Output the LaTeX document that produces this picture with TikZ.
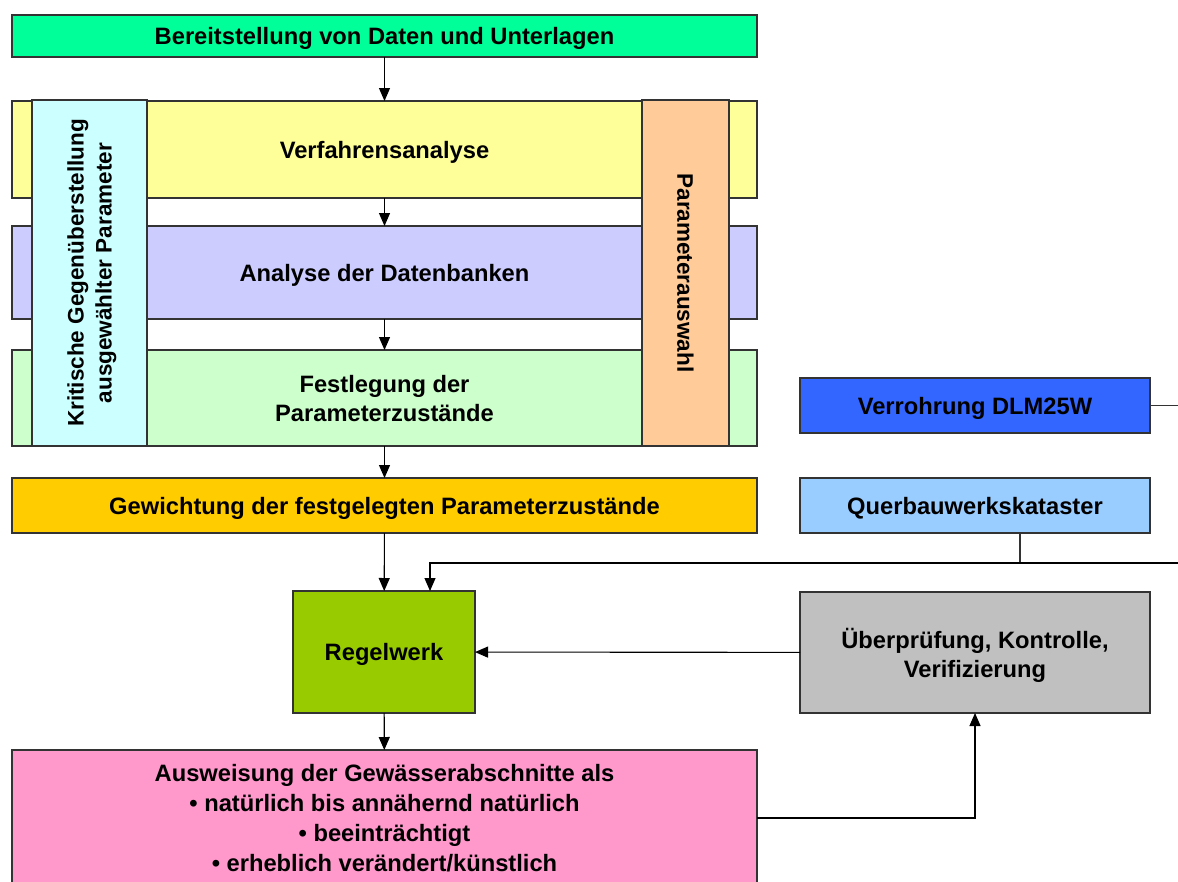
\documentclass[tikz,border=0pt]{standalone}
\usepackage{fontspec}
\setmainfont{Liberation Sans}
\usetikzlibrary{arrows.meta}

\definecolor{gruenhell}{HTML}{00FF99}
\definecolor{gelb}{HTML}{FFFF99}
\definecolor{lila}{HTML}{CCCCFF}
\definecolor{mint}{HTML}{CCFFCC}
\definecolor{tuerkis}{HTML}{CCFFFF}
\definecolor{apricot}{HTML}{FFCC99}
\definecolor{gold}{HTML}{FFCC00}
\definecolor{oliv}{HTML}{99CC00}
\definecolor{blau}{HTML}{3366FF}
\definecolor{hellblau}{HTML}{99CCFF}
\definecolor{grau}{HTML}{C0C0C0}
\definecolor{rosa}{HTML}{FF99CC}

\tikzset{
	kasten/.style={draw=black!80, line width=1.3pt, inner sep=0pt, outer sep=0pt,
		align=center, text depth=0pt, font=\fontsize{23.7}{29}\selectfont\bfseries},
	pfeil/.style={-{Triangle[length=13pt,width=11pt]}, line width=1.1pt},
	linie/.style={line width=1.1pt, draw=black!80}
}

\begin{document}
\begin{tikzpicture}[x=1pt, y=-1pt]
			%%%%% START %%%%%
			\useasboundingbox (0,0) rectangle (1178,881);
			
			\node[kasten, fill=gruenhell, minimum width=745, minimum height=42] (bereit) at (384.5,36) {Bereitstellung von Daten und Unterlagen};
			
			\node[kasten, fill=gelb, minimum width=745, minimum height=97] (verfahren) at (384.5,149.5) {Verfahrensanalyse};
			\node[kasten, fill=lila, minimum width=745, minimum height=93] (analyse) at (384.5,272.5) {Analyse der Datenbanken};
			\node[kasten, fill=mint, minimum width=745, minimum height=96] (festlegung) at (384.5,398) {Festlegung der\\Parameterzustände};
			
			\node[kasten, fill=tuerkis, rotate=90, minimum width=346, minimum height=115, font=\fontsize{22.5}{28}\selectfont\bfseries] (kritisch) at (89.5,273) {Kritische Gegenüberstellung\\ausgewählter Parameter};
			\node[kasten, fill=apricot, rotate=-90, minimum width=346, minimum height=87, font=\fontsize{22.5}{28}\selectfont\bfseries] (auswahl) at (685.5,273) {Parameterauswahl};
			
			\node[kasten, fill=gold, minimum width=745, minimum height=55] (gewichtung) at (384.5,505.5) {Gewichtung der festgelegten Parameterzustände};
			
			\node[kasten, fill=oliv, minimum width=182, minimum height=122] (regel) at (384,652) {Regelwerk};
			
			\node[kasten, fill=rosa, minimum width=745, minimum height=136] (ausweisung) at (384.5,818) {Ausweisung der Gewässerabschnitte als\\[1pt]• natürlich bis annähernd natürlich\\[1pt]• beeinträchtigt\\[1pt]• erheblich verändert/künstlich};
			
			\node[kasten, fill=blau, minimum width=350, minimum height=55] (verrohr) at (975,405.5) {Verrohrung DLM25W};
			\node[kasten, fill=hellblau, minimum width=350, minimum height=55] (querbau) at (975,505.5) {Querbauwerkskataster};
			\node[kasten, fill=grau, minimum width=350, minimum height=121] (pruef) at (975,652.5) {Überprüfung, Kontrolle,\\Verifizierung};
			
			%%%%% VERBINDUNGEN %%%%%
			\coordinate (rand1) at (1178,405.5);
			\coordinate (rand2) at (1178,563);
			\coordinate (ausout) at (757,818);
			
			\draw[pfeil] (bereit) -- (verfahren);
			\draw[pfeil] (verfahren) -- (analyse);
			\draw[pfeil] (analyse) -- (festlegung);
			\draw[pfeil] (festlegung) -- (gewichtung);
			\draw[pfeil] (gewichtung) -- (regel);
			\draw[pfeil] (regel) -- (ausweisung);
			\draw[pfeil] (pruef) -- (regel);
			\draw[pfeil] (ausout) -| (pruef.south);
			
			\draw[linie] (verrohr.east) -- (rand1);
			\draw[linie] ([xshift=45pt]querbau.south) -- ([xshift=45pt]querbau.south |- rand2);
			\draw[pfeil] (rand2) -| ([xshift=46pt]regel.north);
			
			%%%%% END %%%%%
\end{tikzpicture}
\end{document}
